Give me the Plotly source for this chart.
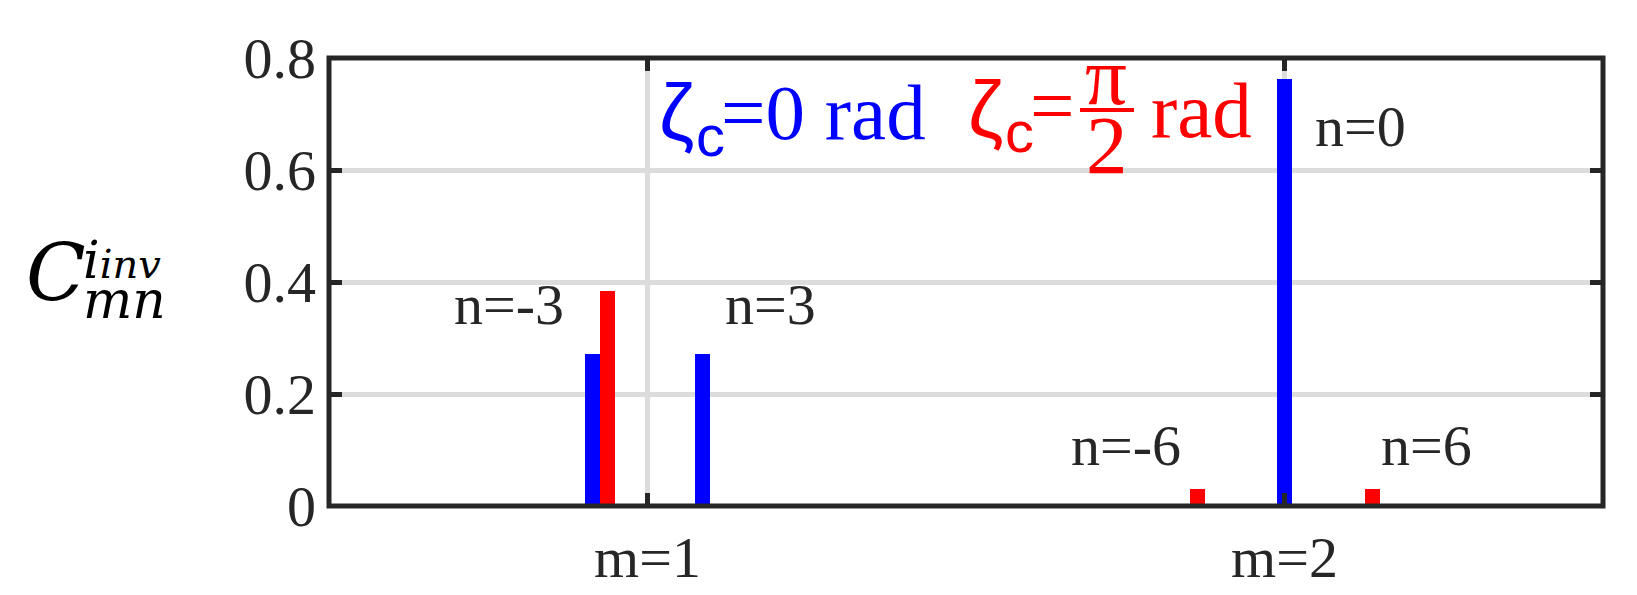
import plotly.graph_objects as go

# ---------------- data ----------------
x_ticks = [1, 2]
x_ticktext = ["m=1", "m=2"]
y_ticks = [0, 0.2, 0.4, 0.6, 0.8]
y_ticktext = ["0", "0.2", "0.4", "0.6", "0.8"]

blue_x = [0.913, 1.087, 2.0]      # n=-3, n=3 (m=1); n=0 (m=2)
blue_y = [0.272, 0.272, 0.763]
red_x = [0.937, 1.864, 2.138]     # n=-3 (m=1); n=-6, n=6 (m=2)
red_y = [0.384, 0.031, 0.031]

bar_labels = ["n=-3", "n=3", "n=-6", "n=6", "n=0"]

# ---------------- layout helpers ----------------
W, H = 1637, 595
ML, MR, MT, MB = 329, 34, 58, 89
PW, PH = W - ML - MR, H - MT - MB
DARK = "#262626"
SERIF = "Liberation Serif"


def paper(xp, yp):
    return (xp - ML) / PW, (H - MB - yp) / PH


fig = go.Figure()
fig.add_trace(go.Bar(x=blue_x, y=blue_y, width=0.0236, marker=dict(color="#0000ff", line=dict(width=0)),
                     hoverinfo="skip"))
fig.add_trace(go.Bar(x=red_x, y=red_y, width=0.0236, marker=dict(color="#ff0000", line=dict(width=0)),
                     hoverinfo="skip"))

annotations = []


def text(t, xp, yp, size, color=DARK, family=SERIF, xanchor="center", yanchor="middle", align="center"):
    px_, py_ = paper(xp, yp)
    annotations.append(dict(text=t, x=px_, y=py_, xref="paper", yref="paper", showarrow=False,
                            xanchor=xanchor, yanchor=yanchor, align=align, borderpad=0, borderwidth=0,
                            font=dict(family=family, size=size, color=color)))


# bar labels (pixel positions of the label centres)
label_pos = [(509, 304), (770, 304), (1126, 445), (1426, 445), (1360, 126)]
for t, (xp, yp) in zip(bar_labels, label_pos):
    text(t, xp, yp, 58)

# legend-like texts
BLUE, RED = "#0000ff", "#ff0000"
SANS = "Liberation Sans"
text("ζ", 676, 112, 80, BLUE, SANS)
text("c", 710, 135, 58, BLUE, SANS)
text("=0 rad", 721, 112, 79, BLUE, SERIF, xanchor="left")
text("ζ", 985, 109, 80, RED, SANS)
text("c", 1019, 131, 58, RED, SANS)
text("=", 1030, 106, 79, RED, SERIF, xanchor="left")
text("π", 1106, 76, 83, RED, SERIF)
text("2", 1107, 145, 83, RED, SERIF)
text("rad", 1151, 110, 79, RED, SERIF, xanchor="left")

# y-axis label  C^{i_inv}_{mn}
IT = "DejaVu Serif"
text("<i>C</i>", 26, 273, 78, "#000000", IT, xanchor="left")
text("<i><span style='font-size:52px'>i</span><span style='font-size:40px'>inv</span><br>"
     "<span style='font-size:52px'>mn</span></i>", 83, 230, 31, "#000000", IT,
     xanchor="left", yanchor="top", align="left")

# fraction bar and frame
fx0, fy = paper(1080, 110)
fx1, _ = paper(1134, 110)
shapes = [
    dict(type="line", xref="paper", yref="paper", x0=fx0, x1=fx1, y0=fy, y1=fy,
         line=dict(color=RED, width=4)),
    dict(type="rect", xref="paper", yref="paper", x0=0, x1=1, y0=0, y1=1,
         line=dict(color=DARK, width=5), layer="above"),
]

axis_common = dict(showline=False, ticks="inside", ticklen=13, tickwidth=5, tickcolor=DARK,
                   mirror="ticks", showgrid=True, gridcolor="#dcdcdc", gridwidth=5, zeroline=False,
                   automargin=False,
                   tickfont=dict(family=SERIF, size=58, color=DARK), fixedrange=True)

fig.update_layout(
    width=W, height=H,
    margin=dict(l=ML, r=MR, t=MT, b=MB, pad=0, autoexpand=False),
    paper_bgcolor="white", plot_bgcolor="white",
    showlegend=False, barmode="overlay", bargap=0,
    xaxis=dict(range=[0.5, 2.5], tickmode="array", tickvals=x_ticks, ticktext=x_ticktext,
               ticklabelstandoff=12, **axis_common),
    yaxis=dict(range=[0, 0.8], tickmode="array", tickvals=y_ticks, ticktext=y_ticktext,
               ticklabelstandoff=12, **axis_common),
    annotations=annotations,
    shapes=shapes,
)

fig.write_html("out.html", config={"displayModeBar": False},
               post_script="document.body.style.margin='0px';document.body.style.overflow='hidden';")
